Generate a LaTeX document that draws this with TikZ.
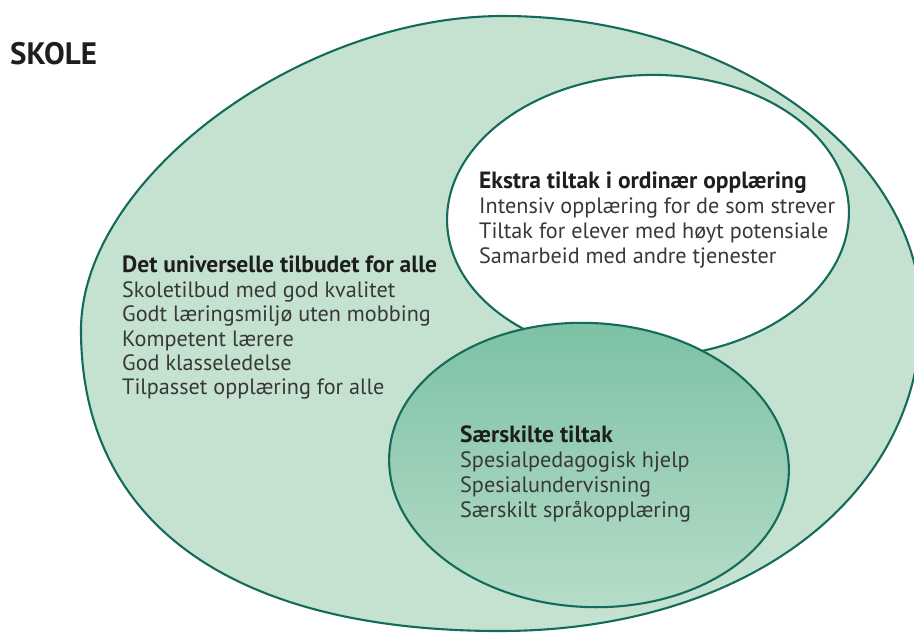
\documentclass[tikz,border=0pt]{standalone}
\usepackage{fontspec}
\setmainfont{PT Sans}
\usetikzlibrary{shapes.geometric}
\definecolor{rim}{HTML}{146B5A}
\definecolor{lightfill}{HTML}{C4E2CF}
\definecolor{midtop}{HTML}{7CC1A5}
\definecolor{midbot}{HTML}{B6DCC7}
\definecolor{txt}{HTML}{383838}
\definecolor{head}{HTML}{1E1E1E}
\tikzset{
  rimline/.style={draw=rim, line width=2.1pt},
  blob/.style={ellipse, rimline, inner sep=0pt},
  hd/.style={anchor=base west, inner sep=0pt, text=head, font=\fontsize{23.5}{26}\selectfont\bfseries},
  ln/.style={anchor=base west, inner sep=0pt, text=txt, font=\fontsize{22.2}{26}\selectfont},
}
\begin{document}
\begin{tikzpicture}[x=1pt,y=-1pt]
\useasboundingbox (0,0) rectangle (914,633);
\clip (0,0) rectangle (914,633);
% outer "SKOLE" region (egg-like closed curve)
\coordinate (oT) at (503,16);
\coordinate (oL) at (81,330);
\coordinate (oB) at (500,631);
\coordinate (oR) at (921,315);
\path[rimline, fill=lightfill]
  (oT) .. controls (300,16) and (81,179) .. (oL)
       .. controls (81,523) and (232,631) .. (oB)
       .. controls (744,631) and (921,498) .. (oR)
       .. controls (921,154) and (729,16) .. (oT) -- cycle;
\node[blob, fill=white, minimum width=402pt, minimum height=282pt, rotate=2] (ekstra) at (648,216) {};
\node[blob, top color=midtop, bottom color=midbot, minimum width=400pt, minimum height=284pt, rotate=-3] (saer) at (589,465) {};
\node[anchor=base west, inner sep=0pt, text=head, font=\fontsize{31}{33}\selectfont\bfseries] (title) at (10,64) {SKOLE};
% universal
\node[hd] (u0) at (122,272) {Det universelle tilbudet for alle};
\node[ln] (u1) at (122,297) {Skoletilbud med god kvalitet};
\node[ln] (u2) at (122,321) {Godt læringsmiljø uten mobbing};
\node[ln] (u3) at (122,346) {Kompetent lærere};
\node[ln] (u4) at (122,370) {God klasseledelse};
\node[ln] (u5) at (122,394) {Tilpasset opplæring for alle};
% ekstra
\node[hd] (e0) at (479,188) {Ekstra tiltak i ordinær opplæring};
\node[ln] (e1) at (479,213) {Intensiv opplæring for de som strever};
\node[ln] (e2) at (479,238) {Tiltak for elever med høyt potensiale};
\node[ln] (e3) at (479,263) {Samarbeid med andre tjenester};
% saerskilte
\node[hd] (s0) at (460,442) {Særskilte tiltak};
\node[ln] (s1) at (460,467) {Spesialpedagogisk hjelp};
\node[ln] (s2) at (460,492) {Spesialundervisning};
\node[ln] (s3) at (460,517) {Særskilt språkopplæring};
\end{tikzpicture}
\end{document}
